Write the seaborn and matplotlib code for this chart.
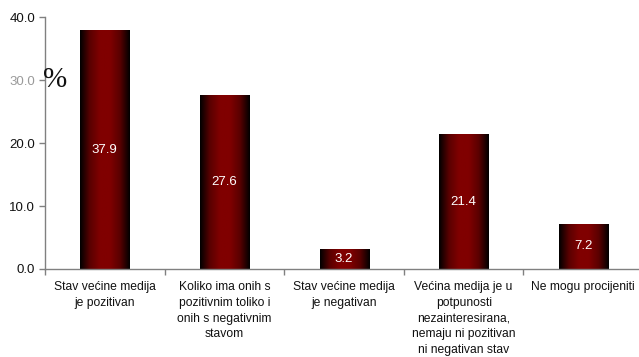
import matplotlib
matplotlib.use("Agg")
import matplotlib.pyplot as plt
import seaborn as sns
import numpy as np
import pandas as pd
from matplotlib.colors import LinearSegmentedColormap

categories = [
    "Stav većine medija\nje pozitivan",
    "Koliko ima onih s\npozitivnim toliko i\nonih s negativnim\nstavom",
    "Stav većine medija\nje negativan",
    "Većina medija je u\npotpunosti\nnezainteresirana,\nnemaju ni pozitivan\nni negativan stav",
    "Ne mogu procijeniti",
]
values = [37.9, 27.6, 3.2, 21.4, 7.2]
yticks = [0, 10, 20, 30, 40]

df = pd.DataFrame({"kategorija": categories, "postotak": values})

sns.set_theme(style="white")
plt.rcParams["font.family"] = ["Liberation Sans", "DejaVu Sans"]

fig = plt.figure(figsize=(6.39, 3.57), dpi=100)
ax = fig.add_axes([0.0704, 0.2465, 0.936, 0.7055])

sns.barplot(data=df, x="kategorija", y="postotak", color="#800000",
            width=0.41, ax=ax)

# gradient fill: dark edges, maroon middle
cmap = LinearSegmentedColormap.from_list(
    "bar", ["#000000", "#5a0000", "#800000", "#800000", "#5a0000", "#000000"])
grad = np.linspace(0, 1, 256).reshape(1, -1)
for bar in ax.patches:
    x0, y0 = bar.get_x(), bar.get_y()
    w, h = bar.get_width(), bar.get_height()
    im = ax.imshow(grad, cmap=cmap, aspect="auto",
                   extent=[x0, x0 + w, y0, y0 + h], zorder=bar.get_zorder() + 0.1)
    im.set_clip_path(bar)
    ax.text(x0 + w / 2, y0 + h / 2, f"{h:.1f}", color="white",
            ha="center", va="center", fontsize=9.5, zorder=5)

ax.set_xlim(-0.5, len(categories) - 0.5)
ax.set_ylim(0, 40)
ax.set_yticks(yticks)
ax.set_yticklabels([f"{t:.1f}" for t in yticks], fontsize=9.5, color="#111111")
ax.get_yticklabels()[3].set_color("#9a9a9a")
ax.set_xticks(np.arange(len(categories) + 1) - 0.5, minor=True)
ax.set_xticks(np.arange(len(categories)))
ax.set_xticklabels(categories, fontsize=8.7, linespacing=1.4, color="#111111")
ax.tick_params(axis="x", which="major", length=0, pad=9)
ax.tick_params(axis="x", which="minor", length=4, width=1, color="#808080",
               direction="out", bottom=True)
ax.tick_params(axis="y", length=4, width=1, color="#808080", direction="out",
               left=True, pad=3)
ax.set_xlabel("")
ax.set_ylabel("")

for s in ["top", "right"]:
    ax.spines[s].set_visible(False)
for s in ["left", "bottom"]:
    ax.spines[s].set_color("#808080")
    ax.spines[s].set_linewidth(1)

ax.text(-0.004, 0.75, "%", transform=ax.transAxes, fontsize=21,
        family=["Liberation Serif"], ha="left", va="center", color="#111111",
        zorder=6)

fig.savefig("out.png", dpi=100)
